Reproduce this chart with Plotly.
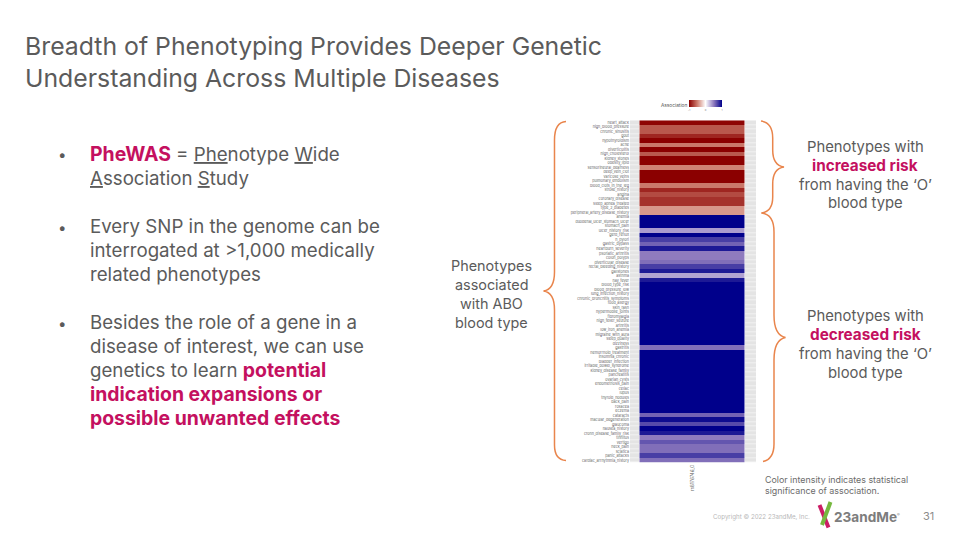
import plotly.graph_objects as go

# Row labels are illegible in the reference: these are estimated stand-ins of similar length.
phenotypes = [
 "heart_attack","high_blood_pressure","chronic_sinusitis","gout","hypothyroidism","acne","diverticulitis",
 "high_cholesterol","kidney_stones","obesity_lipid","sensorineural_deafness","deep_vein_clot","varicose_veins",
 "pulmonary_embolism","blood_clots_in_the_leg","stroke_history","angina","coronary_disease","sleep_apnea_treated",
 "type_2_diabetes","peripheral_artery_disease_history","anemia","duodenal_ulcer_stomach_ulcer","stomach_pain",
 "ulcer_history_risk","gerd_reflux","h_pylori","gastric_bypass","heartburn_severity","psoriatic_arthritis",
 "colon_polyps","diverticular_disease","rectal_bleeding_history","gallstones","asthma","hay_fever",
 "blood_type_risk","blood_pressure_low","lung_infection_history","chronic_bronchitis_symptoms","food_allergy",
 "skin_rash","hypermobile_joints","fibromyalgia","high_fever_seizure","arthritis","low_iron_anemia",
 "migraine_with_aura","sleep_quality","dizziness","gastritis","hemorrhoid_treatment","insomnia_chronic",
 "bladder_infection","irritable_bowel_syndrome","kidney_disease_family","pancreatitis","ovarian_cysts",
 "endometriosis_pain","celiac","lupus","thyroid_nodules","back_pain","rosacea","eczema","cataracts",
 "macular_degeneration","glaucoma","nausea_history","crohn_disease_family_risk","tinnitus","vertigo",
 "neck_pain","sciatica","panic_attacks","cardiac_arrhythmia_history",
]
snp_label = ["rs8176746_O"]
# Negative = increased risk (red side of the colour bar), positive = decreased risk (blue side).
association = [
 -0.98,-0.65,-0.65,-0.85,-1.0,-0.52,-1.0,-0.65,-1.0,-1.0,-0.48,-1.0,-1.0,-1.0,-0.52,-0.85,-0.70,-0.80,-0.80,-0.40,-0.40,
 1.0,1.0,1.0,0.38,1.0,0.75,0.60,0.90,0.50,0.50,0.55,0.75,0.90,0.35,0.90,
 1.0,1.0,1.0,1.0,1.0,1.0,1.0,1.0,1.0,1.0,1.0,1.0,1.0,1.0,0.55,
 1.0,1.0,1.0,1.0,1.0,1.0,1.0,1.0,1.0,1.0,1.0,1.0,1.0,1.0,
 0.60,0.95,0.70,1.0,0.90,0.50,0.65,0.55,0.55,0.75,0.55,
]
title_lines = ["Breadth of Phenotyping Provides Deeper Genetic", "Understanding Across Multiple Diseases"]
GRAY = "#5b5b5b"; PINK = "#c4105f"; ORANGE = "#e9854c"
W, H = 960, 540
FONT = "Inter"

def px(x): return x / W
def py(y): return 1 - y / H

def pth(s):
    out = []
    for tok in s.split():
        if "," in tok:
            a, b = tok.split(",")
            out.append(f"{px(float(a)):.5f},{py(float(b)):.5f}")
        else:
            out.append(tok)
    return " ".join(out)

def txt(x, y, s, size=18, color=GRAY, anchor="left", va="middle", angle=0):
    return dict(x=px(x), y=py(y), xref="paper", yref="paper", text=s, showarrow=False, xanchor=anchor, yanchor=va,
                align=anchor if anchor != "middle" else "center", font=dict(family=FONT, size=size, color=color),
                borderpad=0, borderwidth=0, textangle=angle)

ann = []
ann += [txt(25, 46, title_lines[0], 24.8), txt(25, 78, title_lines[1], 24.8)]
for x, y in [(62, 155), (62, 227), (62, 323)]:
    ann.append(txt(x, y, "•", 15, anchor="center"))
P = lambda s, sz=19.4: f'<span style="color:{PINK};font-size:{sz}px"><b>{s}</b></span>'
body = [
 (154, f'{P("PheWAS")} = <u>Phe</u>notype <u>W</u>ide'),
 (178, '<u>A</u>ssociation <u>S</u>tudy'),
 (226, 'Every SNP in the genome can be'),
 (250, 'interrogated at &gt;1,000 medically'),
 (274, 'related phenotypes'),
 (322, 'Besides the role of a gene in a'),
 (346, 'disease of interest, we can use'),
 (370, f'genetics to learn {P("potential")}'),
 (394, P("indication expansions or")),
 (418, P("possible unwanted effects")),
]
for y, s in body:
    ann.append(txt(90, y, s.replace("<u>", '<span style="text-decoration:underline">').replace("</u>", "</span>"), 18.7))
for y, s in zip((265.5, 284.5, 303.5, 322.5), ("Phenotypes", "associated", "with ABO", "blood type")):
    ann.append(txt(492, y, s, 14.4, anchor="center"))
for y0, w in ((146.5, "increased risk"), (315.5, "decreased risk")):
    for i, s in enumerate(("Phenotypes with", f'<span style="color:{PINK};font-size:15.3px"><b>{w}</b></span>',
                           "from having the ‘O’", "blood type")):
        ann.append(txt(865, y0 + i * 19, s, 14.8, anchor="center"))
ann += [
 txt(765, 479, "Color intensity indicates statistical", 8.9, color="#6b6b6b"),
 txt(765, 490, "significance of association.", 8.9, color="#6b6b6b"),
 txt(713, 517, "Copyright © 2022 23andMe, Inc.", 6.2, color="#b8b8b8"),
 txt(834, 517, "<b>23andMe</b>", 13.6, color="#7d7d7d"),
 txt(897, 514, "®", 4, color="#7d7d7d"),
 txt(923, 516, "31", 11, color="#8c8c8c"),
 txt(687, 104.5, "Association", 4.8, color="#555555", anchor="right"),
]

curve = dict(type="path", xref="paper", yref="paper", line=dict(color=ORANGE, width=1.5))
shapes = [
 dict(path=pth("M 566,121.5 C 558,122 554.5,128 554.5,140 L 554.5,272 C 554.5,283 551,290 543.5,291 C 551,292 554.5,299 554.5,310 L 554.5,445 C 554.5,455 558,460 566,460.5"), **curve),
 dict(path=pth("M 761,121 C 769,122 772.7,128 772.7,138 L 772.7,150 C 772.7,160 777,166 784,167 C 777,168 772.7,174 772.7,184 L 772.7,197 C 772.7,207 769,212 761.5,213"), **curve),
 dict(path=pth("M 761.5,213 C 770,214 774,221 774,232 L 774,315 C 774,329 778,336 785.5,337.5 C 778,339 774,346 774,360 L 774,444 C 774,455 770,460 763,461.5"), **curve),
 dict(path=pth("M 819.5,505 L 828.5,527.5"), type="path", xref="paper", yref="paper", line=dict(color="#cc1d66", width=4)),
 dict(path=pth("M 830.5,502 L 822,525"), type="path", xref="paper", yref="paper", line=dict(color="#76b83f", width=4)),
]

colorscale = [[0, "#8b0000"], [0.25, "rgb(205,125,110)"], [0.5, "#ffffff"], [0.75, "rgb(143,123,190)"], [1, "#00008b"]]
nan = float("nan")
fig = go.Figure()
# light grey side annotation columns
fig.add_trace(go.Heatmap(z=[[1, nan, 1] for _ in phenotypes], x=[-0.09, 0, 1, 1.105],
                         y=list(range(len(phenotypes) + 1)), colorscale=[[0, "#e4e4e4"], [1, "#e4e4e4"]],
                         showscale=False, ygap=0.5, hoverinfo="skip"))
fig.add_trace(go.Heatmap(z=[[v] for v in association], x=[0, 1], y=list(range(len(phenotypes) + 1)),
                         colorscale=colorscale, zmin=-1, zmax=1,
                         colorbar=dict(orientation="h", x=px(705.5), xanchor="center", y=py(110), yanchor="bottom",
                                       len=33 / W, lenmode="fraction", thickness=7, thicknessmode="pixels",
                                       outlinewidth=0, tickvals=[-1, 0, 1], ticklen=0, xpad=0, ypad=0,
                                       tickfont=dict(size=2.5, color="#777777"))))
x0, x1, y0, y1 = 630, 756, 120.3, 462.7
fig.update_xaxes(domain=[px(x0), px(x1)], range=[-0.09, 1.105], tickmode="array", tickvals=[0.5], ticktext=snp_label,
                 tickangle=-90, tickfont=dict(size=4.4, color="#666666", family=FONT), ticks="", showgrid=False,
                 zeroline=False, showline=False, anchor="y")
fig.update_yaxes(domain=[py(y1), py(y0)], range=[len(phenotypes), 0], tickmode="array",
                 tickvals=[i + 0.5 for i in range(len(phenotypes))], ticktext=phenotypes,
                 tickfont=dict(size=3.7, color="#666666", family=FONT), ticks="", showgrid=False, zeroline=False,
                 showline=False, anchor="x")
fig.update_layout(width=W, height=H, margin=dict(l=0, r=0, t=0, b=0), paper_bgcolor="white", plot_bgcolor="white",
                  annotations=ann, shapes=shapes, font=dict(family=FONT, color=GRAY))
fig.write_html("out.html", post_script="document.body.style.margin='0';", config={"displayModeBar": False})
